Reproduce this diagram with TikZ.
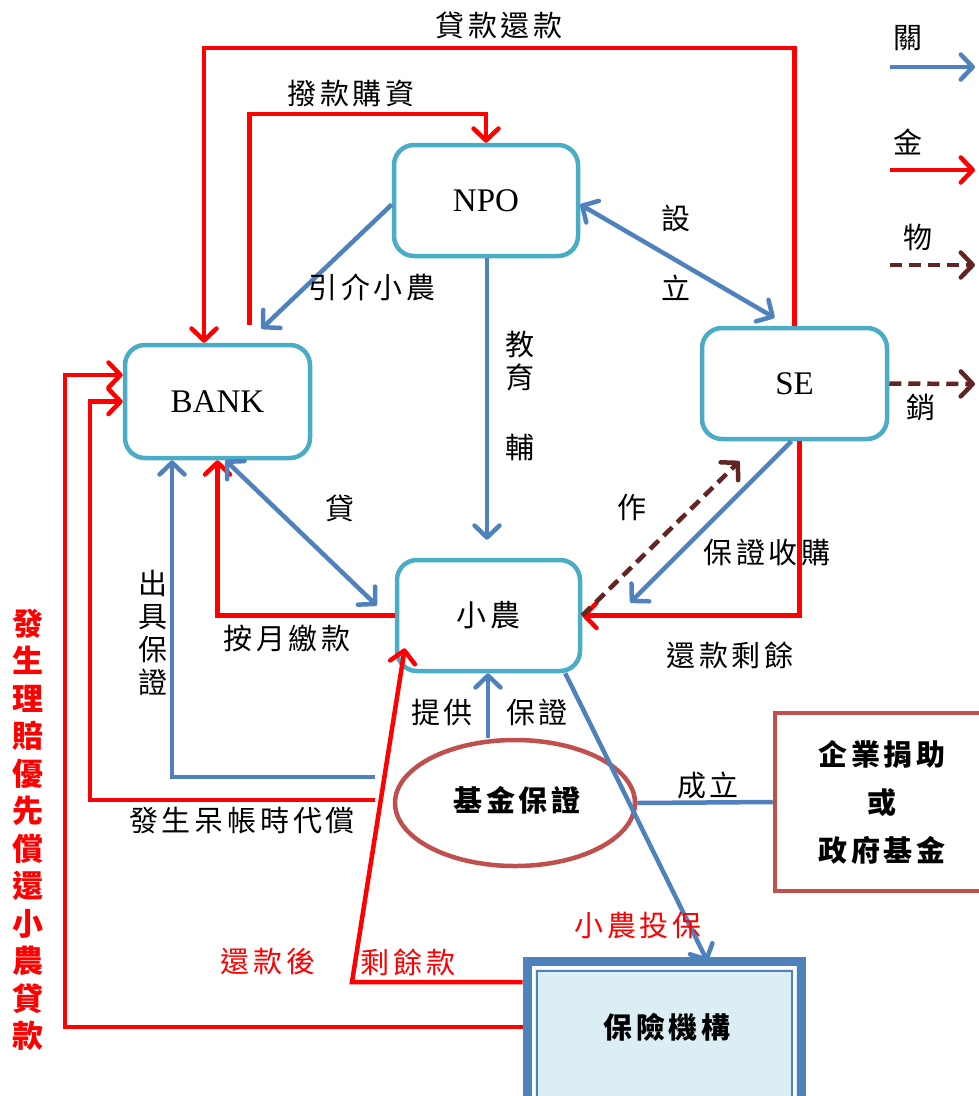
\documentclass[tikz,border=0pt]{standalone}
\usepackage{fontspec}
\setmainfont{Liberation Serif}
\newfontfamily\cjk[LetterSpace=13]{Noto Sans CJK TC}
\newfontfamily\cjkv{Noto Sans CJK TC}
\usetikzlibrary{arrows.meta,shapes.geometric,calc}
\definecolor{boxc}{HTML}{4BACC6}
\definecolor{bluec}{HTML}{4F81BD}
\definecolor{redc}{HTML}{FF0000}
\definecolor{rosec}{HTML}{C0504D}
\definecolor{brownc}{HTML}{632523}
\definecolor{insfill}{HTML}{DBEEF4}
\begin{document}
\begin{tikzpicture}[x=1pt,y=-1pt,
  >={Straight Barb[length=12pt,width=25pt,round]},
  rbox/.style={draw=boxc,line width=4.5pt,fill=white,rounded corners=20pt,inner sep=0pt,font=\fontsize{33}{36}\selectfont},
  redl/.style={draw=redc,line width=4.5pt},
  bluel/.style={draw=bluec,line width=4.5pt},
  brownl/.style={draw=brownc,line width=4.5pt,dash pattern=on 12pt off 7pt},
  lbl/.style={inner sep=0pt,font=\cjk\fontsize{29}{33}\selectfont},
  vlbl/.style={inner sep=0pt,align=center,font=\cjkv\fontsize{29}{33}\selectfont},
  blbl/.style={inner sep=0pt,align=center,font=\cjk\bfseries\fontsize{29}{48}\selectfont},
]
\useasboundingbox (0,0) rectangle (979,1096);

% nodes
\node[rbox,minimum width=184pt,minimum height=111pt] (npo) at (486,200.5) {NPO};
\node[rbox,minimum width=185pt,minimum height=113pt] (bank) at (217.5,401.5) {BANK};
\node[rbox,minimum width=185pt,minimum height=111pt] (se) at (794.5,383.5) {SE};
\node[rbox,minimum width=183pt,minimum height=111pt] (xn) at (488.5,615.5) {\cjkv\fontsize{30}{32}\selectfont 小\hspace{5pt}農};
\node[ellipse,draw=rosec,line width=4.5pt,fill=white,minimum width=240pt,minimum height=126pt,inner sep=0pt] (fund) at (515,803) {};
\node[blbl] (fundlbl) at (517,800) {基金保證};
\node[draw=rosec,line width=4.5pt,fill=white,minimum width=210pt,minimum height=178pt,inner sep=0pt] (biz) at (880,802) {};
\node[blbl] (bizlbl) at (882,802) {企業捐助\\或\\政府基金};
\node[draw=bluec,line width=9pt,fill=insfill,minimum width=274pt,minimum height=149pt,inner sep=0pt] (ins) at (664,1035.5) {};
\draw[white,line width=2.5pt] ($(ins.north west)+(11,11)$) rectangle ($(ins.south east)+(-11,-11)$);
\draw[bluec,line width=2pt] ($(ins.north west)+(14,14)$) rectangle ($(ins.south east)+(-14,-14)$);
\node[blbl] (inslbl) at (667,1027) {保險機構};

% helper coordinates
\coordinate (c1) at (500,48);
\coordinate (c2) at (400,114);
\coordinate (c5s) at (375,800);
\coordinate (c5) at (90,600);
\coordinate (c6) at (65,700);
\coordinate (c7) at (352,982);
\coordinate (c13s) at (375,777);
\coordinate (c18) at (975,384);

% red money flows
\draw[redl,->] (se.north) |- (c1) -| ([xshift=-13.5pt]bank.north);
\draw[redl,->] ([xshift=32pt,yshift=18pt]bank.north) |- (c2) -| (npo.north);
\draw[redl,->] (xn.west) -| (bank.south);
\draw[redl,->] ([xshift=5pt]se.south) |- (xn.east);
\draw[redl,->] (c5s) -| (c5) |- (bank.west);
\draw[redl,->] ([yshift=8.5pt]ins.west) -| (c6) |- ([yshift=26.5pt]bank.west);
\draw[redl,->] ([yshift=53.5pt]ins.west) -- (c7) -- ([xshift=10pt,yshift=25pt]xn.south west);

% blue relations
\draw[bluel,->] ([yshift=-4pt]npo.west) -- ([xshift=44pt,yshift=14pt]bank.north);
\draw[bluel,->] ([xshift=1pt]npo.south) -- ([xshift=-1.5pt,yshift=18pt]xn.north);
\draw[bluel,<->] ([yshift=-4pt]npo.east) -- ([xshift=-20pt,yshift=8pt]se.north);
\draw[bluel,<->] ([xshift=8pt]bank.south) -- ([xshift=-18pt,yshift=10pt]xn.west);
\draw[bluel,->] ([xshift=-3pt]se.south) -- ([xshift=48pt,yshift=13pt]xn.east);
\draw[bluel,->] (c13s) -| ([xshift=-45.5pt]bank.south);
\draw[bluel,->] ([xshift=-27pt]fund.north) -- ([xshift=-0.5pt]xn.south);
\draw[bluel] (biz.west) -- (fund.east);
\draw[bluel,->] ([xshift=-17pt]xn.south east) -- ([xshift=43.5pt,yshift=-5pt]ins.north);

% brown goods flows
\draw[brownl,->] (xn.east) -- ([xshift=-55pt,yshift=-20pt]se.south);
\draw[brownl,->] (se.east) -- (c18);

% legend
\coordinate (l1a) at (890,67); \coordinate (l1b) at (975,67);
\coordinate (l2a) at (890,170); \coordinate (l2b) at (975,170);
\coordinate (l3a) at (890,265); \coordinate (l3b) at (975,265);
\draw[bluel,->] (l1a) -- (l1b);
\draw[redl,->] (l2a) -- (l2b);
\draw[brownl,->] (l3a) -- (l3b);
\node[vlbl] (lg1) at (908,38) {關};
\node[vlbl] (lg2) at (908,142) {金};
\node[vlbl] (lg3) at (918,237) {物};
\node[vlbl] (lg4) at (921,408) {銷};

% labels
\node[lbl] (t1) at (499,25) {貸款還款};
\node[lbl] (t2) at (351,93) {撥款購資};
\node[lbl] (t3) at (372,287) {引介小農};
\node[vlbl] (t4) at (520,361.5) {教\\育};
\node[vlbl] (t5) at (520,447) {輔};
\node[vlbl] (t6) at (676,218) {設};
\node[vlbl] (t7) at (676,288) {立};
\node[vlbl] (t8) at (632,508) {作};
\node[vlbl] (t9) at (340,508) {貸};
\node[lbl] (t10) at (767,552) {保證收購};
\node[lbl] (t11) at (287,638) {按月繳款};
\node[lbl] (t12) at (730,655) {還款剩餘};
\node[vlbl] (t13) at (153,633) {出\\具\\保\\證};
\node[lbl] (t14) at (442,712) {提供};
\node[lbl] (t15) at (537,712) {保證};
\node[lbl] (t16) at (242,821) {發生呆帳時代償};
\node[lbl] (t17) at (708,785) {成立};
\node[lbl,text=redc] (t18) at (638,926) {小農投保};
\node[lbl,text=redc] (t19) at (268,962) {還款後};
\node[lbl,text=redc] (t20) at (408,962) {剩餘款};
\node[inner sep=0pt,align=center,text=redc,font=\cjkv\bfseries\fontsize{31}{37.5}\selectfont] (t21) at (28,830) {發\\生\\理\\賠\\優\\先\\償\\還\\小\\農\\貸\\款};
\end{tikzpicture}
\end{document}
